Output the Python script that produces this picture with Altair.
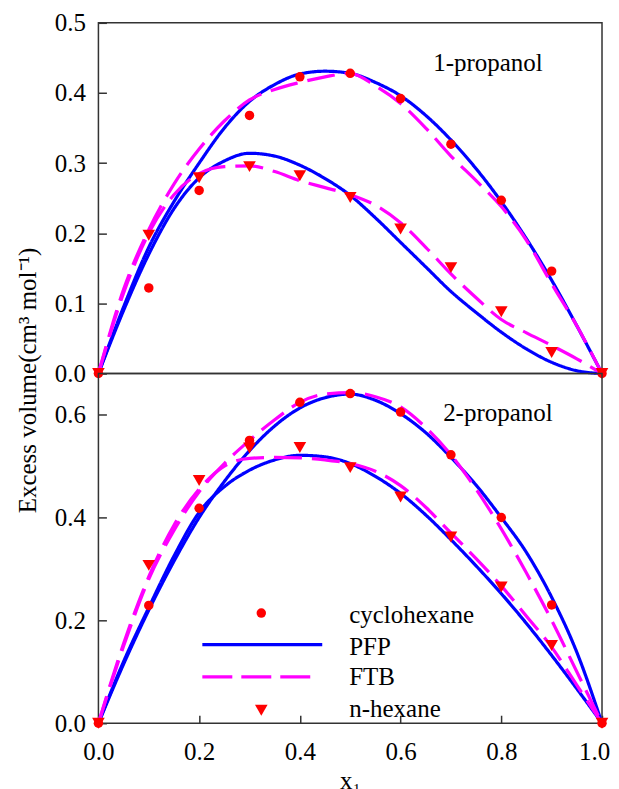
import altair as alt
import pandas as pd

# ---------------- data ----------------
x_obs = [0.0, 0.1, 0.2, 0.3, 0.4, 0.5, 0.6, 0.7, 0.8, 0.9, 1.0]
p1_cyc_obs = [0.0, 0.122, 0.261, 0.368, 0.423, 0.428, 0.392, 0.327, 0.247, 0.146, 0.0]
p1_hex_obs = [0.0, 0.197, 0.279, 0.295, 0.282, 0.251, 0.206, 0.151, 0.088, 0.030, 0.0]
p2_cyc_obs = [0.0, 0.229, 0.418, 0.550, 0.624, 0.641, 0.605, 0.522, 0.400, 0.230, 0.0]
p2_hex_obs = [0.0, 0.307, 0.472, 0.535, 0.536, 0.497, 0.440, 0.362, 0.265, 0.151, 0.0]

x_fit = [0.0, 0.05, 0.1, 0.15, 0.2, 0.25, 0.3, 0.35, 0.4, 0.45, 0.5,
         0.55, 0.6, 0.65, 0.7, 0.75, 0.8, 0.85, 0.9, 0.95, 1.0]
p1_cyc_pfp = [0.0, 0.095, 0.18, 0.245, 0.30, 0.35, 0.388, 0.412, 0.427, 0.431, 0.428,
              0.415, 0.396, 0.368, 0.333, 0.292, 0.245, 0.192, 0.133, 0.068, 0.0]
p1_hex_pfp = [0.0, 0.09, 0.17, 0.235, 0.279, 0.303, 0.314, 0.31, 0.297, 0.278, 0.254,
              0.222, 0.187, 0.152, 0.117, 0.087, 0.059, 0.035, 0.016, 0.004, 0.0]
p1_cyc_ftb = [0.0, 0.12, 0.205, 0.27, 0.32, 0.36, 0.39, 0.405, 0.415, 0.423, 0.428,
              0.41, 0.385, 0.35, 0.31, 0.275, 0.238, 0.19, 0.128, 0.068, 0.0]
p1_hex_ftb = [0.0, 0.115, 0.2, 0.255, 0.285, 0.295, 0.296, 0.288, 0.275, 0.265, 0.255,
              0.24, 0.215, 0.18, 0.142, 0.108, 0.077, 0.058, 0.040, 0.021, 0.0]
p2_cyc_pfp = [0.0, 0.115, 0.22, 0.315, 0.40, 0.47, 0.53, 0.578, 0.613, 0.633, 0.64,
              0.628, 0.602, 0.565, 0.517, 0.463, 0.40, 0.332, 0.245, 0.138, 0.0]
p2_hex_pfp = [0.0, 0.12, 0.225, 0.325, 0.41, 0.46, 0.492, 0.512, 0.521, 0.518, 0.505,
              0.48, 0.447, 0.405, 0.357, 0.306, 0.252, 0.194, 0.132, 0.067, 0.0]
p2_cyc_ftb = [0.0, 0.15, 0.28, 0.375, 0.45, 0.505, 0.55, 0.59, 0.624, 0.64, 0.643,
              0.635, 0.615, 0.575, 0.522, 0.455, 0.378, 0.292, 0.20, 0.10, 0.0]
p2_hex_ftb = [0.0, 0.155, 0.285, 0.385, 0.455, 0.50, 0.515, 0.517, 0.516, 0.512, 0.505,
              0.49, 0.462, 0.42, 0.37, 0.32, 0.267, 0.208, 0.148, 0.074, 0.0]

legend_labels = ["cyclohexane", "PFP", "FTB", "n-hexane"]
panel_labels = ["1-propanol", "2-propanol"]
y_title = "Excess volume(cm\u00b3 mol\u207b\u00b9)"
x_title = "x\u2081"

FONT = "Liberation Serif"
RED, BLUE, MAG = "#ff0000", "#0000ff", "#ff00ff"


def fit_df(cyc_pfp, hex_pfp, cyc_ftb, hex_ftb):
    rows = []
    for name, model, vals in [("cyclohexane", "PFP", cyc_pfp), ("n-hexane", "PFP", hex_pfp),
                              ("cyclohexane", "FTB", cyc_ftb), ("n-hexane", "FTB", hex_ftb)]:
        for xv, yv in zip(x_fit, vals):
            rows.append({"x": xv, "v": yv, "series": name, "model": model, "key": name + model})
    return pd.DataFrame(rows)


def obs_df(cyc, hexa):
    rows = []
    for name, vals in [("cyclohexane", cyc), ("n-hexane", hexa)]:
        for xv, yv in zip(x_obs, vals):
            rows.append({"x": xv, "v": yv, "series": name})
    return pd.DataFrame(rows)


def text_mark(t, x, y, **kw):
    return alt.Chart(pd.DataFrame({"t": [t]})).mark_text(
        font=FONT, fontSize=25, color="black", **kw
    ).encode(text="t:N", x=alt.value(x), y=alt.value(y))


def panel(fits, obs, ydomain, yvalues, label, label_x, show_x, extra=None, height=350):
    xscale = alt.Scale(domain=[0, 1], nice=False)
    yscale = alt.Scale(domain=ydomain, nice=False, zero=False)
    if show_x:
        xaxis = alt.Axis(values=[0, 0.2, 0.4, 0.6, 0.8, 1.0], format=".1f", title=x_title,
                         offset=-8, tickSize=8, labelPadding=16, labelFlush=False,
                         labelOverlap=False, titlePadding=4, titleFont=FONT,
                         titleFontSize=25, titleFontWeight="normal", titleColor="black",
                         labelOffset={"condition": {"test": "datum.value == 1", "value": -8}, "value": 0})
    else:
        xaxis = None
    yaxis = alt.Axis(values=yvalues, format=".1f", title=None, offset=-8, tickSize=8,
                     labelPadding=13, labelOverlap=False, labelFlush=False)
    base_x = alt.X("x:Q", scale=xscale, axis=xaxis)
    base_y = alt.Y("v:Q", scale=yscale, axis=yaxis)

    lines = alt.Chart(fits).mark_line(strokeWidth=3.2, interpolate="monotone").encode(
        x=base_x, y=base_y,
        color=alt.Color("model:N", scale=alt.Scale(domain=["PFP", "FTB"], range=[BLUE, MAG]), legend=None),
        strokeDash=alt.StrokeDash("model:N", scale=alt.Scale(domain=["PFP", "FTB"], range=[[1, 0], [28, 10]]), legend=None),
        detail="key:N",
    )
    pts = alt.Chart(obs).mark_point(filled=True, opacity=1, color=RED).encode(
        x=base_x, y=base_y,
        shape=alt.Shape("series:N", scale=alt.Scale(domain=["cyclohexane", "n-hexane"], range=["circle", "triangle-down"]), legend=None),
        size=alt.Size("series:N", scale=alt.Scale(domain=["cyclohexane", "n-hexane"], range=[90, 160]), legend=None),
    )
    txt = text_mark(label, label_x, 48, align="left", baseline="alphabetic")
    layers = [lines, pts, txt]
    if extra:
        layers += extra
    return alt.layer(*layers).properties(width=504, height=height)


# legend (bottom panel), drawn by hand
leg_text = [text_mark(lab, 251, yy, align="left", baseline="alphabetic")
            for lab, yy in zip(legend_labels, [250, 282, 312, 343.7])]
leg_circle = alt.Chart(pd.DataFrame({"t": [legend_labels[0]]})).mark_point(
    filled=True, opacity=1, color=RED, shape="circle", size=90
).encode(x=alt.value(163), y=alt.value(239.7))
leg_tri = alt.Chart(pd.DataFrame({"t": [legend_labels[3]]})).mark_point(
    filled=True, opacity=1, color=RED, shape="triangle-down", size=160
).encode(x=alt.value(163), y=alt.value(337))
leg_pfp = alt.Chart(pd.DataFrame({"t": [legend_labels[1]]})).mark_rule(
    color=BLUE, strokeWidth=3.2).encode(x=alt.value(104), x2=alt.value(224), y=alt.value(271.3))
leg_ftb = alt.Chart(pd.DataFrame({"t": [legend_labels[2]]})).mark_rule(
    color=MAG, strokeWidth=3.2, strokeDash=[30, 9]).encode(x=alt.value(104), x2=alt.value(212), y=alt.value(303.7))

ytitle = text_mark(y_title, -70, 358, angle=270, align="center", baseline="middle")

top = panel(fit_df(p1_cyc_pfp, p1_hex_pfp, p1_cyc_ftb, p1_hex_ftb), obs_df(p1_cyc_obs, p1_hex_obs),
            [0, 0.5], [0, 0.1, 0.2, 0.3, 0.4, 0.5], panel_labels[0], 335, False,
            extra=[ytitle], height=351)
bottom = panel(fit_df(p2_cyc_pfp, p2_hex_pfp, p2_cyc_ftb, p2_hex_ftb), obs_df(p2_cyc_obs, p2_hex_obs),
               [0, 0.68], [0, 0.2, 0.4, 0.6], panel_labels[1], 345, True,
               extra=[leg_pfp, leg_ftb, leg_circle, leg_tri] + leg_text, height=350)

chart = alt.vconcat(top, bottom, spacing=0, bounds="flush").properties(
    padding={"left": 7.5, "top": 1.5, "right": 0, "bottom": 0},
    background="white",
).configure_view(stroke="#333333", strokeWidth=1.5).configure_axis(
    labelFont=FONT, labelFontSize=25, labelColor="black", tickColor="#333333",
    tickWidth=1.5, grid=False, domain=False
)

chart.save("out.html", embed_options={"renderer": "svg", "actions": False})
